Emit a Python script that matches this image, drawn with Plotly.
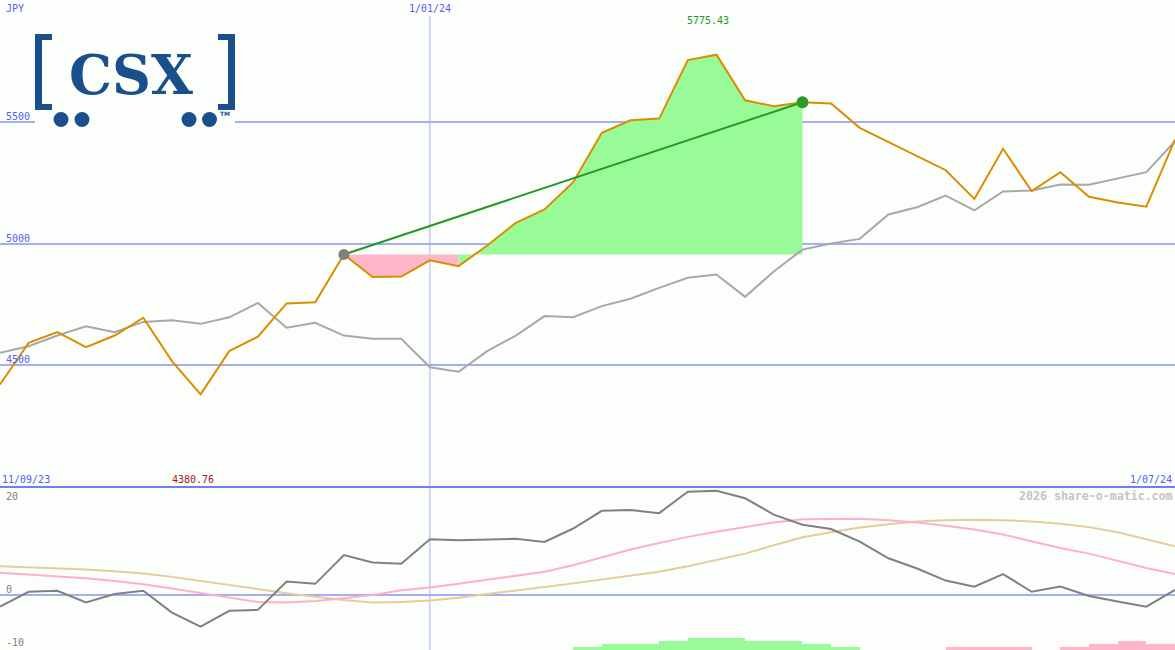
import plotly.graph_objects as go

# ---------------- data ----------------
price = [4421, 4592, 4636, 4574, 4622, 4695, 4517, 4380.76, 4558, 4617, 4754, 4759,
         4955, 4862, 4864, 4931, 4907, 4992, 5085, 5140, 5252, 5455, 5506, 5513,
         5753, 5775.43, 5588, 5564, 5580, 5575, 5475, 5417, 5359, 5301, 5183, 5389,
         5215, 5293, 5192, 5168, 5151, 5427]
benchmark = [4551, 4578, 4622, 4660, 4636, 4678, 4685, 4670, 4697, 4756, 4654, 4674,
             4622, 4609, 4609, 4492, 4473, 4558, 4622, 4702, 4697, 4743, 4773, 4818,
             4859, 4873, 4781, 4885, 4975, 5000, 5019, 5119, 5149, 5197, 5136, 5214,
             5218, 5242, 5241, 5266, 5293, 5420]
momentum = [-2.5, 0.7, 0.9, -1.6, 0.2, 0.9, -3.8, -6.8, -3.4, -3.2, 2.9, 2.4,
            8.6, 7.0, 6.7, 12.0, 11.8, 11.9, 12.1, 11.4, 14.3, 18.1, 18.3, 17.6,
            22.2, 22.4, 20.8, 17.3, 15.1, 14.2, 11.5, 7.9, 5.7, 3.1, 1.8, 4.5,
            0.7, 1.8, -0.2, -1.4, -2.5, 1.1]
fast_avg = [4.8, 4.4, 4.0, 3.6, 3.0, 2.3, 1.4, 0.4, -0.6, -1.5, -1.6, -1.3,
            -0.7, 0.0, 1.0, 1.6, 2.4, 3.3, 4.2, 5.0, 6.4, 8.1, 9.8, 11.2,
            12.5, 13.6, 14.6, 15.6, 16.3, 16.4, 16.4, 16.1, 15.6, 14.9, 14.1, 13.0,
            11.6, 10.1, 8.9, 7.3, 5.8, 4.5]
slow_avg = [6.2, 6.0, 5.8, 5.5, 5.1, 4.6, 3.9, 3.0, 2.1, 1.2, 0.4, -0.4,
            -1.1, -1.6, -1.5, -1.2, -0.6, 0.2, 0.9, 1.7, 2.5, 3.3, 4.1, 5.0,
            6.2, 7.5, 8.9, 10.7, 12.4, 13.5, 14.5, 15.2, 15.8, 16.1, 16.2, 16.1,
            15.8, 15.3, 14.6, 13.5, 12.0, 10.5]
histogram = [0] * 20 + [1, 2, 2, 3, 4, 4, 3, 3, 2, 1] + [0, 0, 0] + \
            [-1, -1, -1, 0, -1, -2, -3, -2] + [0]
date_tick_idx = [0, 15, 41]
date_tick_text = ["11/09/23", "1/01/24", "1/07/24"]
price_ticks = [4500, 5000, 5500]
osc_ticks = [20, 0, -10]
trend_start, trend_end = 12, 28
currency = "JPY"
watermark = "2026 share-o-matic.com"
logo_text = "CSX"

# ---------------- styling ----------------
W, H = 1175, 650
LOWER_PX = 163
BG = "#fcfefc"
BLUE_TXT = "#5060f0"
GRID = "#a4aef4"
MONO = "DejaVu Sans Mono, monospace"
LOGO = "#1b4f8c"
x = list(range(len(price)))
n = len(price)


def pxx(p):
    return p / W


def pxy(p):
    return 1 - p / H


fig = go.Figure()

# ---- gain / loss fill vs. entry level ----
base = price[trend_start]
segments = []
for i in range(trend_start, trend_end):
    up = price[i + 1] >= base
    if segments and segments[-1][0] == up:
        segments[-1][2] = i + 1
    else:
        segments.append([up, i, i + 1])
for up, a, b in segments:
    xs = x[a:b + 1]
    fig.add_trace(go.Scatter(x=[xs[0], xs[-1]], y=[base, base], mode="lines",
                             line=dict(width=0), hoverinfo="skip", showlegend=False,
                             xaxis="x", yaxis="y"))
    fig.add_trace(go.Scatter(x=xs, y=price[a:b + 1], mode="lines", fill="tonexty",
                             fillcolor="#98fb98" if up else "#ffb6c8",
                             line=dict(width=0), hoverinfo="skip", showlegend=False,
                             xaxis="x", yaxis="y"))

fig.add_trace(go.Scatter(x=x, y=benchmark, mode="lines",
                         line=dict(color="#a8a8a8", width=2), showlegend=False,
                         xaxis="x", yaxis="y"))
fig.add_trace(go.Scatter(x=x, y=price, mode="lines",
                         line=dict(color="#dc8c00", width=2), showlegend=False,
                         xaxis="x", yaxis="y"))
fig.add_trace(go.Scatter(x=[trend_start, trend_end], y=[price[trend_start], price[trend_end]],
                         mode="lines", line=dict(color="#229922", width=2),
                         showlegend=False, xaxis="x", yaxis="y"))
fig.add_trace(go.Scatter(x=[trend_start], y=[price[trend_start]], mode="markers",
                         marker=dict(color="#808080", size=11), showlegend=False,
                         xaxis="x", yaxis="y"))
fig.add_trace(go.Scatter(x=[trend_end], y=[price[trend_end]], mode="markers",
                         marker=dict(color="#2a9a2a", size=12), showlegend=False,
                         xaxis="x", yaxis="y"))

# ---- lower panel ----
fig.add_trace(go.Bar(x=[i + 0.5 for i in x], y=[abs(v) for v in histogram], width=1,
                     marker=dict(color=["#98fb98" if v > 0 else "#ffb6c8" for v in histogram],
                                 line=dict(width=0)),
                     showlegend=False, xaxis="x2", yaxis="y3"))
fig.add_trace(go.Scatter(x=x, y=slow_avg, mode="lines",
                         line=dict(color="#e4cc9c", width=2), showlegend=False,
                         xaxis="x2", yaxis="y2"))
fig.add_trace(go.Scatter(x=x, y=fast_avg, mode="lines",
                         line=dict(color="#ffb0c8", width=2), showlegend=False,
                         xaxis="x2", yaxis="y2"))
fig.add_trace(go.Scatter(x=x, y=momentum, mode="lines",
                         line=dict(color="#808080", width=2), showlegend=False,
                         xaxis="x2", yaxis="y2"))

low_top = LOWER_PX / H
shapes = []
# 1/01/24 marker
shapes.append(dict(type="line", xref="x", yref="paper", x0=date_tick_idx[1], x1=date_tick_idx[1],
                   y0=0, y1=pxy(16), line=dict(color="#a8b0f0", width=1), layer="below"))
# separator
shapes.append(dict(type="line", xref="paper", yref="paper", x0=0, x1=1, y0=low_top, y1=low_top,
                   line=dict(color="#7080f0", width=2)))
# logo background
shapes.append(dict(type="rect", xref="paper", yref="paper", x0=pxx(35), x1=pxx(235),
                   y0=pxy(128), y1=pxy(30), fillcolor=BG, line=dict(width=0)))


def prect(x0, y0, x1, y1):
    shapes.append(dict(type="rect", xref="paper", yref="paper", x0=pxx(x0), x1=pxx(x1),
                       y0=pxy(y1), y1=pxy(y0), fillcolor=LOGO, line=dict(width=0)))


# brackets
prect(35, 34, 42, 110)
prect(35, 34, 52, 40)
prect(35, 104, 52, 110)
prect(228, 34, 235, 110)
prect(218, 34, 235, 40)
prect(218, 104, 235, 110)
for cx in (61, 82, 189, 209.5):
    shapes.append(dict(type="circle", xref="paper", yref="paper", x0=pxx(cx - 7.5), x1=pxx(cx + 7.5),
                       y0=pxy(119.5 + 7.5), y1=pxy(119.5 - 7.5), fillcolor=LOGO, line=dict(width=0)))

ann = []


def ptext(text, xp, yp, xanchor="left", color=BLUE_TXT, size=10, family=MONO, yanchor="middle", **kw):
    ann.append(dict(text=text, xref="paper", yref="paper", x=pxx(xp), y=pxy(yp), xanchor=xanchor,
                    yanchor=yanchor, showarrow=False, font=dict(color=color, size=size, family=family), **kw))


ptext(currency, 4, 9)
for v in price_ticks:
    ann.append(dict(text=str(v), xref="paper", yref="y", x=pxx(4), y=v, xanchor="left",
                    yanchor="bottom", showarrow=False, yshift=-2,
                    font=dict(color=BLUE_TXT, size=10, family=MONO)))
for v, shift in zip(osc_ticks, (-2, -2, -9)):
    ann.append(dict(text=str(v), xref="paper", yref="y2", x=pxx(4), y=v, xanchor="left",
                    yanchor="bottom", showarrow=False, yshift=shift,
                    font=dict(color="#808080", size=10, family=MONO)))
# date labels
ann.append(dict(text=date_tick_text[0], xref="x", yref="paper", x=date_tick_idx[0], y=pxy(479),
                xanchor="left", yanchor="middle", showarrow=False, xshift=0,
                font=dict(color=BLUE_TXT, size=10, family=MONO)))
ann.append(dict(text=date_tick_text[1], xref="x", yref="paper", x=date_tick_idx[1], y=pxy(9),
                xanchor="center", yanchor="middle", showarrow=False,
                font=dict(color=BLUE_TXT, size=10, family=MONO)))
ann.append(dict(text=date_tick_text[2], xref="x", yref="paper", x=date_tick_idx[2], y=pxy(479),
                xanchor="right", yanchor="middle", showarrow=False, xshift=-1,
                font=dict(color=BLUE_TXT, size=10, family=MONO)))
# high / low
imax = price.index(max(price))
imin = price.index(min(price))
ann.append(dict(text=f"{max(price):.2f}", xref="x", yref="paper", x=imax, y=pxy(21),
                xanchor="center", yanchor="middle", showarrow=False, xshift=-8,
                font=dict(color="#229922", size=10, family=MONO)))
ann.append(dict(text=f"{min(price):.2f}", xref="x", yref="paper", x=imin, y=pxy(479),
                xanchor="center", yanchor="middle", showarrow=False, xshift=-8,
                font=dict(color="#a01818", size=10, family=MONO)))
ptext(f"<b>{watermark}</b>", 1175, 496, xanchor="right", color="#c4c4c4", size=11.6)

# logo letters
ptext(f"<b>{logo_text}</b>", 131, 75, xanchor="center", color=LOGO, size=54,
      family="DejaVu Serif, serif")
ptext("<b>TM</b>", 218, 114, xanchor="left", color=LOGO, size=6, family="DejaVu Sans, sans-serif")

fig.update_layout(
    width=W, height=H, margin=dict(l=0, r=0, t=0, b=0),
    paper_bgcolor=BG, plot_bgcolor=BG, showlegend=False, bargap=0,
    shapes=shapes, annotations=ann,
    xaxis=dict(domain=[0, 1], range=[0, n - 1], visible=False, anchor="y"),
    xaxis2=dict(domain=[0, 1], range=[0, n - 1], visible=False, anchor="y2", matches="x"),
    yaxis=dict(domain=[low_top, 1], range=[4000, 6000], tickmode="array", tickvals=price_ticks,
               showticklabels=False, gridcolor=GRID, gridwidth=2, zeroline=False, anchor="x"),
    yaxis2=dict(domain=[0, low_top], range=[-11.83, 23.23], tickmode="array", tickvals=[0],
                showticklabels=False, gridcolor=GRID, gridwidth=2, zeroline=False, anchor="x2"),
    yaxis3=dict(overlaying="y2", range=[0, LOWER_PX / 3], visible=False, anchor="x2"),
)

fig.write_html("out.html", config={"displayModeBar": False},
               post_script="document.body.style.margin='0';document.body.style.overflow='hidden';")
